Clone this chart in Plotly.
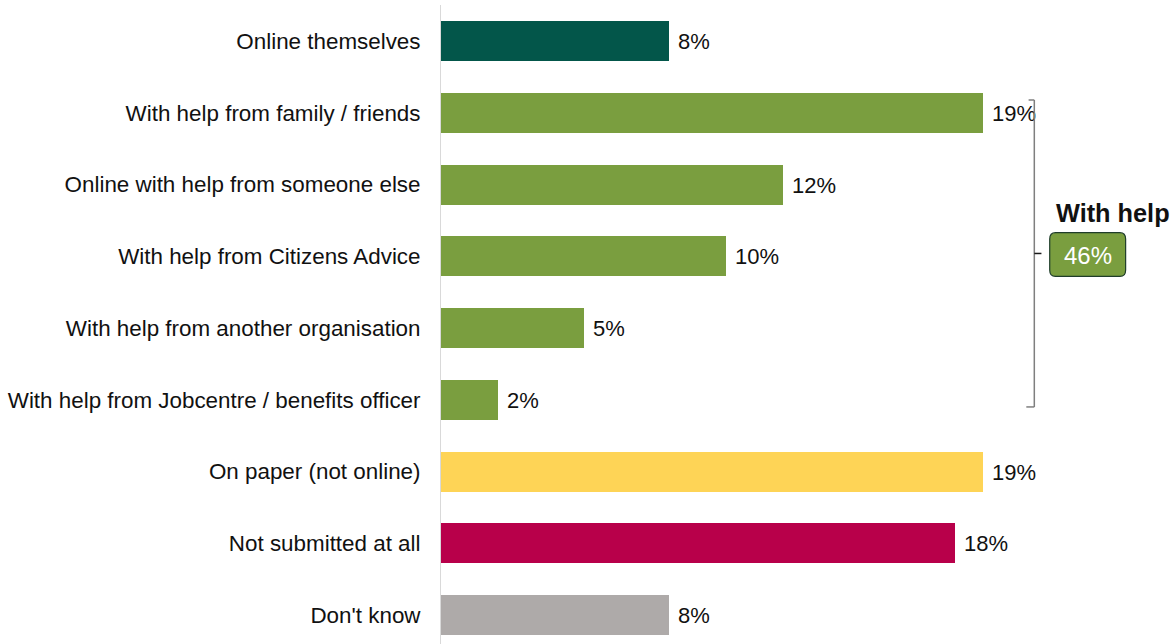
import plotly.graph_objects as go

# Survey responses: how the form was submitted
categories = [
    "Online themselves",
    "With help from family / friends",
    "Online with help from someone else",
    "With help from Citizens Advice",
    "With help from another organisation",
    "With help from Jobcentre / benefits officer",
    "On paper (not online)",
    "Not submitted at all",
    "Don't know",
]
values = [8, 19, 12, 10, 5, 2, 19, 18, 8]
bar_colors = [
    "#03564A", "#7A9E3F", "#7A9E3F", "#7A9E3F", "#7A9E3F", "#7A9E3F",
    "#FED456", "#B8004A", "#AEAAA9",
]
with_help_label = "With help"
with_help_total = 46
help_first, help_last = 1, 5  # indices of the grouped "with help" rows

FONT = "Liberation Sans, Arial, sans-serif"
W, H = 1175, 644
L, T = 441, 5
x_max = 25.72
y_range = [8.404, -0.502]

fig = go.Figure(
    go.Bar(
        y=list(range(len(categories))),
        x=values,
        orientation="h",
        marker=dict(color=bar_colors, line=dict(width=0)),
        width=0.557,
        text=[f"{v}%" for v in values],
        texttemplate=" %{text}",
        textposition="outside",
        textfont=dict(family=FONT, size=22, color="#111111"),
        cliponaxis=False,
        hoverinfo="skip",
    )
)

# Bracket grouping the "with help" rows
bx = 20.79
y_top = help_first - 0.178
y_bot = help_last + 0.10
y_mid = (y_top + y_bot) / 2
line = dict(color="#7f7f7f", width=1.5)
fig.add_shape(type="line", xref="x", yref="y", x0=bx, x1=bx, y0=y_top, y1=y_bot, line=line)
fig.add_shape(type="line", xref="x", yref="y", x0=bx - 0.2, x1=bx, y0=y_top, y1=y_top, line=line)
fig.add_shape(type="line", xref="x", yref="y", x0=bx - 0.28, x1=bx, y0=y_bot, y1=y_bot, line=line)
fig.add_shape(type="line", xref="x", yref="y", x0=bx, x1=bx + 0.25, y0=y_mid, y1=y_mid,
              line=dict(color="#1a1a1a", width=1.5))

# Rounded box holding the group total
x0, x1 = 21.33, 23.99
yb0, yb1 = y_mid - 0.29, y_mid + 0.32
r = 0.2
ry = 0.09
path = (
    f"M {x0 + r},{yb0} L {x1 - r},{yb0} Q {x1},{yb0} {x1},{yb0 + ry} "
    f"L {x1},{yb1 - ry} Q {x1},{yb1} {x1 - r},{yb1} "
    f"L {x0 + r},{yb1} Q {x0},{yb1} {x0},{yb1 - ry} "
    f"L {x0},{yb0 + ry} Q {x0},{yb0} {x0 + r},{yb0} Z"
)
fig.add_shape(type="path", xref="x", yref="y", path=path,
              fillcolor="#7A9E3F", line=dict(color="#1F3D2A", width=1.2))
fig.add_annotation(x=(x0 + x1) / 2, y=(yb0 + yb1) / 2 + 0.02, xref="x", yref="y",
                   text=f"{with_help_total}%", showarrow=False,
                   font=dict(family=FONT, size=24, color="white"))
fig.add_annotation(x=x1 + 1.64, y=y_mid - 0.57, xref="x", yref="y", xanchor="right",
                   text=f"<b>{with_help_label}</b>", showarrow=False,
                   font=dict(family=FONT, size=25.3, color="#111111"))

fig.update_layout(
    width=W, height=H,
    margin=dict(l=L, r=0, t=T, b=0),
    paper_bgcolor="white", plot_bgcolor="white",
    showlegend=False,
    xaxis=dict(range=[0, x_max], visible=False, fixedrange=True),
    yaxis=dict(
        range=y_range,
        tickmode="array",
        tickvals=list(range(len(categories))),
        ticktext=categories,
        showgrid=False, zeroline=False,
        showline=True, linecolor="#d9d9d9", linewidth=1,
        ticks="", ticklabelstandoff=15,
        tickfont=dict(family=FONT, size=22.4, color="#111111"),
    ),
    bargap=0,
)

fig.write_html("out.html")
